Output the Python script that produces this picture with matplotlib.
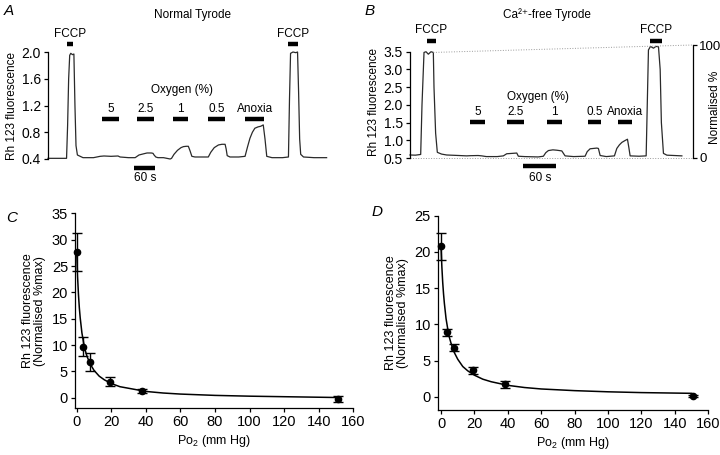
import numpy as np
import matplotlib
matplotlib.use('Agg')
import matplotlib.pyplot as plt

plt.rcParams['font.family'] = ['Liberation Sans', 'DejaVu Sans']
plt.rcParams['mathtext.fontset'] = 'custom'
plt.rcParams['mathtext.rm'] = 'Liberation Sans'
plt.rcParams['mathtext.it'] = 'Liberation Sans:italic'
plt.rcParams['mathtext.default'] = 'regular'

# ---- panel A: Rh 123 trace, normal Tyrode (time in s) ----
a_t = [0, 30, 53, 56, 59, 62, 65, 70, 74, 77,
       80, 84, 92, 100, 130, 149, 160, 180, 200, 206,
       230, 249, 260, 275, 283, 295, 300, 303, 308, 314,
       330, 349, 353, 360, 370, 380, 387, 395, 401, 406,
       411, 420, 440, 458, 465, 475, 487, 497, 506, 509,
       512, 520, 545, 563, 570, 577, 584, 591, 600, 608,
       615, 620, 625, 640, 670, 687, 690, 693, 700, 708,
       713, 716, 719, 722, 730, 760, 796]
a_val = [0.41, 0.41, 0.41, 0.9, 1.6, 1.95, 1.98, 1.96, 1.97, 1.2,
         0.6, 0.46, 0.44, 0.42, 0.42, 0.44, 0.445, 0.44, 0.445, 0.43,
         0.42, 0.42, 0.46, 0.48, 0.49, 0.49, 0.485, 0.46, 0.43, 0.42,
         0.42, 0.40, 0.41, 0.47, 0.53, 0.57, 0.585, 0.59, 0.59, 0.52,
         0.44, 0.43, 0.43, 0.43, 0.50, 0.57, 0.61, 0.62, 0.62, 0.55,
         0.45, 0.43, 0.43, 0.44, 0.58, 0.71, 0.80, 0.86, 0.88, 0.89,
         0.91, 0.70, 0.44, 0.42, 0.42, 0.43, 1.3, 1.98, 2.0, 1.99,
         2.0, 1.4, 0.7, 0.47, 0.43, 0.42, 0.42]
a_fccp = [(53, 72), (687, 713)]
a_o2_labels = ['5', '2.5', '1', '0.5', 'Anoxia']
a_o2_bars = [(153, 203), (255, 303), (356, 401), (456, 506), (563, 618)]
a_scale_start = 247

# ---- panel B: Ca2+-free Tyrode ----
b_t = [0, 10, 19.6, 22, 25.7, 29.4, 33.6, 38.5, 42.8, 44,
       47, 50.1, 58, 67.3, 90, 104, 110, 125, 131.6, 140,
       160, 171.2, 177.4, 187, 195.8, 198.7, 210, 235, 244.6, 249,
       253.8, 262, 269.2, 278.4, 284.4, 300, 321.1, 325, 330.3, 342.6,
       345.5, 348.7, 360, 374.9, 379.3, 384, 388.5, 394, 398.8, 401.3,
       403.7, 420, 433.1, 437.3, 441, 446.5, 451, 455.7, 458.8, 461,
       464.8, 471.1, 485, 498.6]
b_val = [0.585, 0.58, 0.6, 2.0, 3.48, 3.5, 3.43, 3.5, 3.48, 2.5,
         1.2, 0.66, 0.61, 0.585, 0.57, 0.56, 0.565, 0.57, 0.56, 0.54,
         0.54, 0.56, 0.62, 0.63, 0.64, 0.55, 0.54, 0.53, 0.55, 0.65,
         0.71, 0.73, 0.72, 0.7, 0.56, 0.54, 0.55, 0.68, 0.76, 0.78,
         0.77, 0.57, 0.54, 0.56, 0.77, 0.87, 0.94, 0.99, 1.03, 0.8,
         0.56, 0.55, 0.56, 3.55, 3.65, 3.6, 3.65, 3.64, 3.0, 1.5,
         0.63, 0.58, 0.57, 0.56]
b_fccp = [(32, 47), (440, 462)]
b_o2_bars = [(110, 138), (177, 209), (251, 278), (326, 350), (381, 408)]
b_scale_start = 208
b_norm = (0.5, 3.69)   # raw values that map to 0 and 100 %

# ---- panels C, D: normalised fluorescence vs PO2 ----
po2 = [0, 3.8, 7.6, 19, 38, 151]
c_mean = [27.6, 9.7, 6.8, 3.0, 1.35, -0.2]
c_err = [3.6, 1.85, 1.7, 0.85, 0.4, 0.6]
d_mean = [20.8, 8.9, 6.8, 3.7, 1.75, 0.1]
d_err = [1.85, 0.5, 0.5, 0.5, 0.45, 0.15]
fit_x = [0, 0.5, 1, 1.5, 2, 3, 4, 5, 6, 8, 10, 13, 16, 20, 25, 30,
         40, 50, 60, 80, 100, 120, 150]
c_fit = [27.6, 22.9, 19.6, 17.1, 15.2, 12.3, 10.4, 8.9, 7.8, 6.3, 5.2, 4.1,
         3.4, 2.7, 2.1, 1.8, 1.2, 0.9, 0.7, 0.45, 0.3, 0.2, 0.05]
d_fit = [20.7, 17.9, 15.8, 14.2, 12.9, 10.8, 9.4, 8.2, 7.4, 6.1, 5.2, 4.2,
         3.6, 3.0, 2.45, 2.1, 1.6, 1.3, 1.1, 0.87, 0.71, 0.6, 0.5]

W, H = 720, 455
fig = plt.figure(figsize=(W / 100, H / 100), dpi=100)


def px_axes(x0, y0, x1, y1):
    return fig.add_axes([x0 / W, 1 - y1 / H, (x1 - x0) / W, (y1 - y0) / H])


def style(ax, size=10):
    for s in ['top', 'right']:
        ax.spines[s].set_visible(False)
    for s in ax.spines.values():
        s.set_linewidth(0.9)
    ax.tick_params(direction='out', length=3, width=0.9, labelsize=size, pad=2)


def bar(ax, t0, t1, y, lw=3.2):
    ax.plot([t0, t1], [y, y], color='k', lw=lw, solid_capstyle='butt', clip_on=False)


trace_col = '#2a2a2a'
fs = 8.5

# ---------- A ----------
axA = px_axes(48, 52, 328, 159)
style(axA)
axA.spines['bottom'].set_visible(False)
axA.set_xticks([])
axA.plot(a_t, a_val, color=trace_col, lw=0.9, clip_on=False)
axA.set_xlim(0, 800)
axA.set_ylim(0.4, 2.0)
axA.set_yticks([0.4, 0.8, 1.2, 1.6, 2.0])
axA.set_yticklabels(['%.1f' % v for v in [0.4, 0.8, 1.2, 1.6, 2.0]])
axA.set_ylabel('Rh 123 fluorescence', fontsize=fs, labelpad=3)
for t0, t1 in a_fccp:
    bar(axA, t0, t1, 2.12)
    axA.text((t0 + t1) / 2, 2.18, 'FCCP', ha='center', va='bottom', fontsize=fs)
for (t0, t1), lab in zip(a_o2_bars, a_o2_labels):
    bar(axA, t0, t1, 1.0)
    axA.text((t0 + t1) / 2, 1.06, lab, ha='center', va='bottom', fontsize=fs)
axA.text(383, 1.43, 'Oxygen (%)', ha='center', va='center', fontsize=fs)
bar(axA, a_scale_start, a_scale_start + 60, 0.265)
axA.text(a_scale_start + 30, 0.12, '60 s', ha='center', va='center', fontsize=fs)
fig.text(192 / W, 1 - 15 / H, 'Normal Tyrode', ha='center', va='center', fontsize=fs)
fig.text(4 / W, 1 - 11 / H, 'A', ha='left', va='center', fontsize=11, style='italic')

# ---------- B ----------
axB = px_axes(410, 45, 693, 158)
style(axB)
axB.spines['bottom'].set_visible(False)
axB.set_xticks([])
axB.plot(b_t, b_val, color=trace_col, lw=0.9, clip_on=False)
axB.set_xlim(0, 519)
axB.set_ylim(*b_norm)
axB.spines['left'].set_bounds(0.5, 3.5)
axB.set_yticks([0.5, 1.0, 1.5, 2.0, 2.5, 3.0, 3.5])
axB.set_yticklabels(['%.1f' % v for v in [0.5, 1.0, 1.5, 2.0, 2.5, 3.0, 3.5]])
axB.set_ylabel('Rh 123 fluorescence', fontsize=fs, labelpad=3)
# normalisation guide lines
i1 = max(i for i, v in enumerate(b_val) if v > 3.4 and b_t[i] < 100)
axB.plot([b_t[i1], 519], [b_val[i1], b_norm[1]], color='#9a9a9a', lw=0.7, ls=':', clip_on=False)
axB.plot([0, 519], [b_norm[0], b_norm[0]], color='#9a9a9a', lw=0.7, ls=':', clip_on=False)
for t0, t1 in b_fccp:
    bar(axB, t0, t1, 3.81)
    axB.text((t0 + t1) / 2, 3.93, 'FCCP', ha='center', va='bottom', fontsize=fs)
for (t0, t1), lab in zip(b_o2_bars, a_o2_labels):
    bar(axB, t0, t1, 1.525)
    axB.text((t0 + t1) / 2, 1.62, lab, ha='center', va='bottom', fontsize=fs)
axB.text(234, 2.22, 'Oxygen (%)', ha='center', va='center', fontsize=fs)
bar(axB, b_scale_start, b_scale_start + 60, 0.28)
axB.text(b_scale_start + 30, -0.07, '60 s', ha='center', va='center', fontsize=fs)
axR = axB.twinx()
axR.set_ylim(0, 100)
for s in ['top', 'bottom', 'left']:
    axR.spines[s].set_visible(False)
axR.spines['right'].set_linewidth(0.9)
axR.set_yticks([0, 100])
axR.tick_params(direction='out', length=3, width=0.9, labelsize=9.5, pad=1.5)
axR.set_ylabel('Normalised %', fontsize=fs)
axR.yaxis.set_label_coords((709 - 410) / 283, 0.45)
fig.text(547 / W, 1 - 15 / H, 'Ca²⁺-free Tyrode', ha='center', va='center', fontsize=fs)
fig.text(365 / W, 1 - 11 / H, 'B', ha='left', va='center', fontsize=11, style='italic')

# ---------- C, D ----------
panels = [
    ('C', (75, 213.3, 353.3, 408.3), (-1, 160), (-2, 35), c_mean, c_err, c_fit, (6, 218)),
    ('D', (437.7, 215.7, 708.3, 410), (-2, 160), (-1.8, 25), d_mean, d_err, d_fit, (372, 212)),
]
for letter, box, xl, yl, mean, err, fit, lpos in panels:
    ax = px_axes(*box)
    style(ax, size=10.5)
    ax.plot(fit_x, fit, color='k', lw=1.1)
    ax.errorbar(po2, mean, yerr=err, fmt='o', color='k', ms=4.5, elinewidth=1,
                capsize=3.5, capthick=1, clip_on=False)
    ax.set_xlim(*xl)
    ax.set_ylim(*yl)
    ax.set_xticks(np.arange(0, 161, 20))
    ax.set_yticks(np.arange(0, yl[1] + 1, 5))
    ax.set_xlabel('Po$_2$ (mm Hg)', fontsize=9, labelpad=3)
    ax.set_ylabel('Rh 123 fluorescence\n(Normalised %max)', fontsize=9, labelpad=4,
                  linespacing=1.0)
    fig.text(lpos[0] / W, 1 - lpos[1] / H, letter, ha='left', va='center', fontsize=11,
             style='italic')

fig.savefig('out.png', dpi=100)
